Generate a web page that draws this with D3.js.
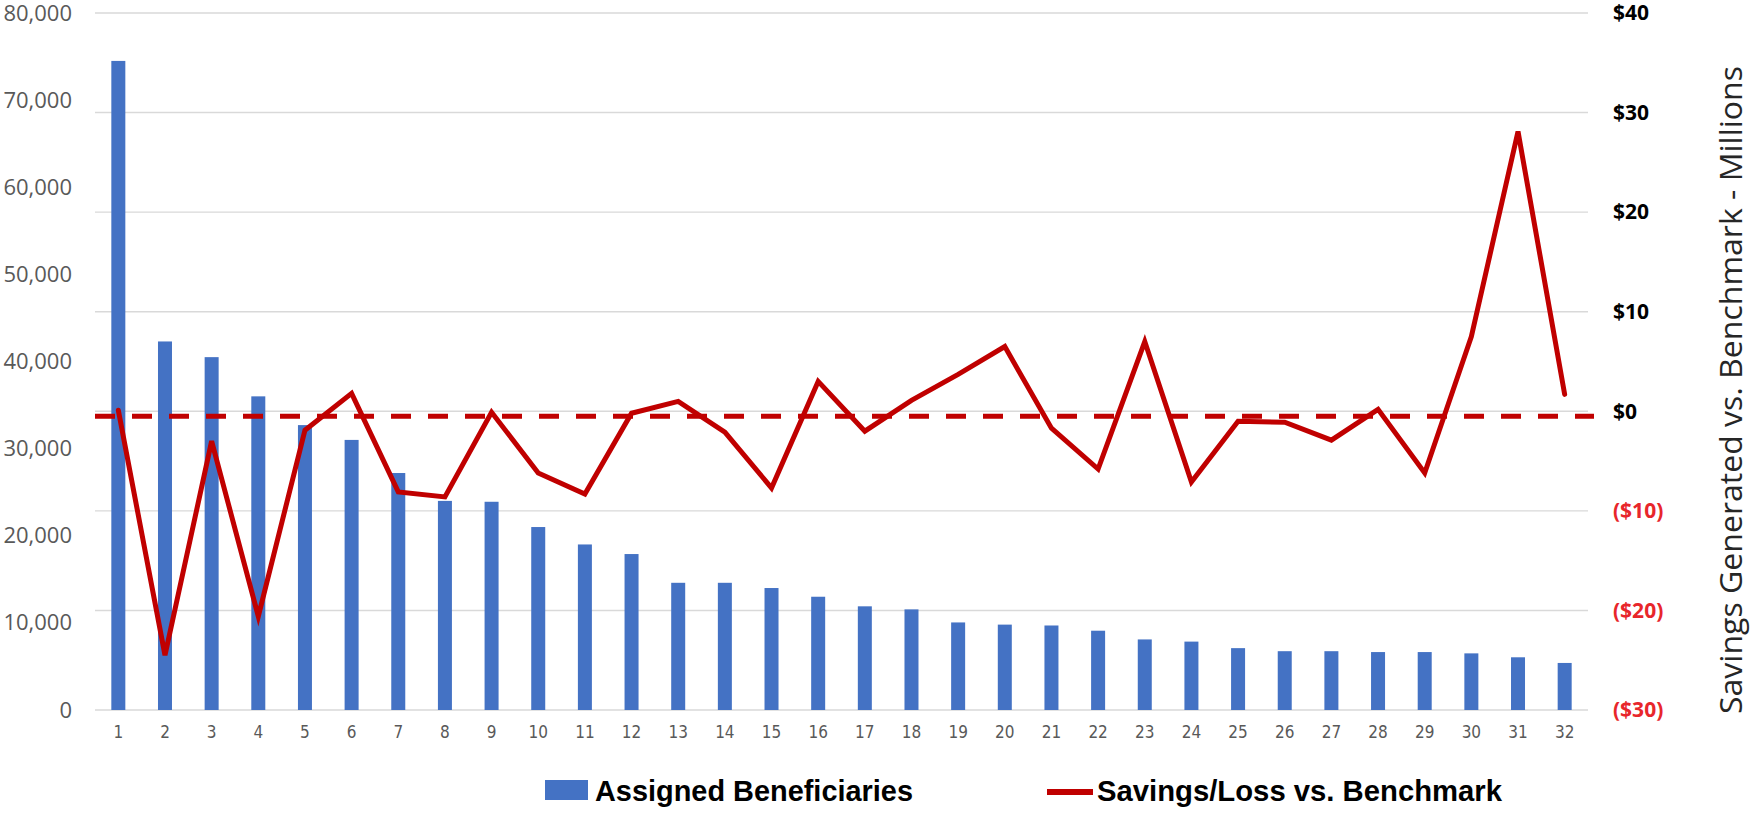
<!DOCTYPE html>
<html>
<head>
<meta charset="utf-8">
<script src="https://cdn.jsdelivr.net/npm/d3@7"></script>
<style>
  html, body { margin: 0; padding: 0; background: #fff; }
  svg { display: block; }
</style>
</head>
<body>
<svg id="chart" width="1750" height="814"></svg>
<script>
// ---- data ----
const categories = ["1","2","3","4","5","6","7","8","9","10","11","12","13","14","15","16",
                    "17","18","19","20","21","22","23","24","25","26","27","28","29","30","31","32"];

// Assigned beneficiaries per organisation (left axis)
const beneficiaries = [74500, 42300, 40500, 36000, 32700, 31000, 27200, 24000,
                       23900, 21000, 19000, 17900, 14600, 14600, 14000, 13000,
                       11900, 11550, 10050, 9800, 9700, 9100, 8100, 7850,
                       7100, 6750, 6750, 6650, 6650, 6500, 6050, 5400];

// Savings / loss vs. benchmark, $ millions (right axis)
const savings = [0.1, -24.5, -3.0, -20.6, -1.9, 1.8, -8.1, -8.6,
                 -0.1, -6.2, -8.3, -0.2, 1.0, -2.1, -7.7, 3.0,
                 -2.0, 1.1, 3.7, 6.5, -1.7, -5.8, 7.0, -7.1,
                 -1.0, -1.1, -2.9, 0.2, -6.2, 7.5, 28.1, 1.7];

const benchmarkLevel = -0.5;

const leftTicks  = [0, 10000, 20000, 30000, 40000, 50000, 60000, 70000, 80000];
const rightTicks = [-30, -20, -10, 0, 10, 20, 30, 40];

const seriesNames = ["Assigned Beneficiaries", "Savings/Loss vs. Benchmark"];
const rightTitle = "Savings Generated vs. Benchmark - Millions";

// ---- layout ----
const plotLeft = 95, plotRight = 1588, plotTop = 13, plotBottom = 710;
const barColor = "#4472C4", lineColor = "#C00000";

const svg = d3.select("#chart");

const x = d3.scaleBand().domain(categories)
  .range([plotLeft, plotRight]).paddingInner(0.7).paddingOuter(0.35);
const yLeft = d3.scaleLinear().domain([0, 80000]).range([plotBottom, plotTop]);
const yRight = d3.scaleLinear().domain([-30, 40]).range([plotBottom, plotTop]);

// horizontal gridlines follow the right-hand axis
svg.append("g").selectAll("line").data(rightTicks).join("line")
  .attr("x1", plotLeft).attr("x2", plotRight)
  .attr("y1", d => yRight(d)).attr("y2", d => yRight(d))
  .attr("stroke", "#d9d9d9").attr("stroke-width", 1.4);

// bars
svg.append("g").selectAll("rect").data(beneficiaries).join("rect")
  .attr("x", (d, i) => x(categories[i]))
  .attr("width", x.bandwidth())
  .attr("y", d => yLeft(d))
  .attr("height", d => yLeft(0) - yLeft(d))
  .attr("fill", barColor);

// benchmark dashed line
svg.append("line")
  .attr("x1", plotLeft).attr("x2", plotRight + 6)
  .attr("y1", yRight(benchmarkLevel)).attr("y2", yRight(benchmarkLevel))
  .attr("stroke", lineColor).attr("stroke-width", 5)
  .attr("stroke-dasharray", "20 17");

// savings line
const line = d3.line()
  .x((d, i) => x(categories[i]) + x.bandwidth() / 2)
  .y(d => yRight(d));
svg.append("path").datum(savings)
  .attr("d", line)
  .attr("fill", "none")
  .attr("stroke", lineColor)
  .attr("stroke-width", 5)
  .attr("stroke-linejoin", "miter")
  .attr("stroke-linecap", "round");

// left axis
const leftAxis = svg.append("g").attr("transform", "translate(72,0)")
  .call(d3.axisLeft(yLeft).tickValues(leftTicks).tickSize(0).tickPadding(0)
        .tickFormat(d3.format(",")));
leftAxis.select(".domain").remove();
leftAxis.selectAll("text")
  .attr("font-family", "'Open Sans', sans-serif").attr("font-size", 22)
  .attr("fill", "#595959");

// right axis
const fmtMoney = v => v < 0 ? "($" + (-v) + ")" : "$" + v;
const rightAxis = svg.append("g").attr("transform", "translate(1613,0)")
  .call(d3.axisRight(yRight).tickValues(rightTicks).tickSize(0).tickPadding(0)
        .tickFormat(fmtMoney));
rightAxis.select(".domain").remove();
rightAxis.selectAll("text")
  .attr("font-family", "'Open Sans', sans-serif").attr("font-size", 21)
  .attr("font-weight", "bold")
  .attr("fill", d => d < 0 ? "#E8262B" : "#000");

// category axis
const xAxis = svg.append("g").attr("transform", `translate(0,${plotBottom})`)
  .call(d3.axisBottom(x).tickSize(0).tickPadding(16));
xAxis.select(".domain").remove();
xAxis.selectAll("text")
  .attr("font-family", "'Liberation Sans Narrow', 'DejaVu Sans Condensed', 'Liberation Sans', sans-serif")
  .attr("font-size", 17).attr("fill", "#595959");

// right axis title
svg.append("text")
  .attr("transform", "translate(1742,390) rotate(-90)")
  .attr("text-anchor", "middle")
  .attr("font-family", "'Open Sans', sans-serif").attr("font-size", 31)
  .attr("fill", "#262626")
  .attr("textLength", 648).attr("lengthAdjust", "spacingAndGlyphs")
  .text(rightTitle);

// legend (condensed bold labels)
const legend = svg.append("g")
  .attr("font-family", "'Liberation Sans', 'Open Sans', sans-serif")
  .attr("font-weight", "bold").attr("font-size", 29).attr("fill", "#000");
legend.append("rect").attr("x", 545).attr("y", 780).attr("width", 43).attr("height", 20)
  .attr("fill", barColor);
legend.append("text").attr("x", 595).attr("y", 801)
  .attr("textLength", 318).attr("lengthAdjust", "spacingAndGlyphs")
  .text(seriesNames[0]);
legend.append("line").attr("x1", 1047).attr("x2", 1093).attr("y1", 792).attr("y2", 792)
  .attr("stroke", lineColor).attr("stroke-width", 6);
legend.append("text").attr("x", 1097).attr("y", 801)
  .attr("textLength", 405).attr("lengthAdjust", "spacingAndGlyphs")
  .text(seriesNames[1]);
</script>
</body>
</html>
